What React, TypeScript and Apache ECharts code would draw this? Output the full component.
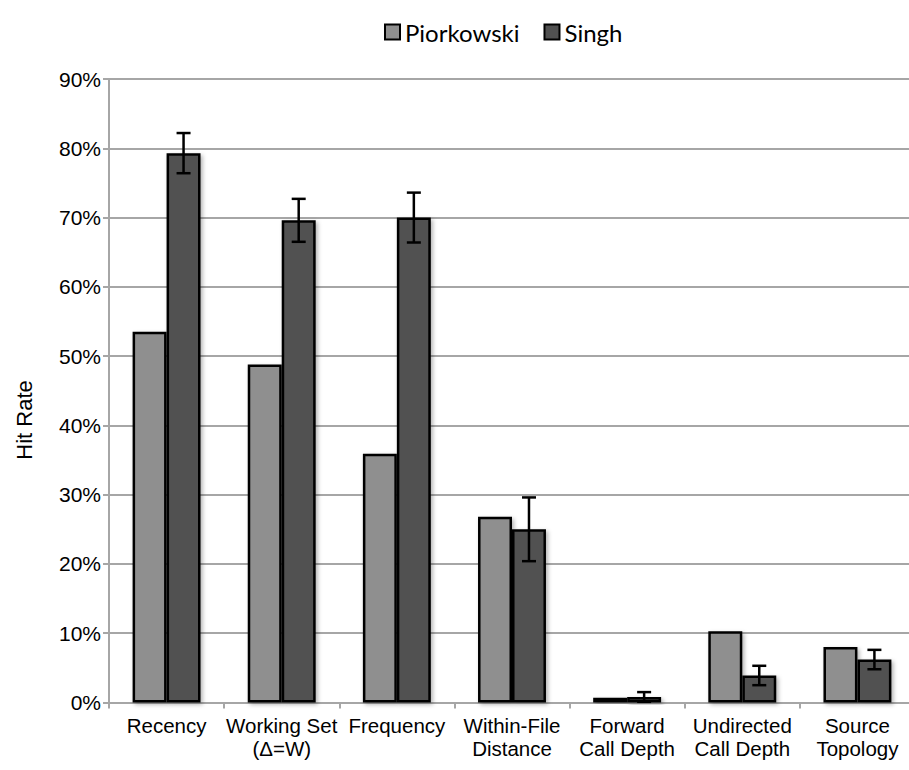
import React, { useEffect, useRef } from "react";
import * as echarts from "echarts";

// Replacement policies compared on hit rate
const categories = [
  "Recency",
  "Working Set\n(Δ=W)",
  "Frequency",
  "Within-File\nDistance",
  "Forward\nCall Depth",
  "Undirected\nCall Depth",
  "Source\nTopology",
];

const piorkowski = [53.5, 48.8, 35.9, 26.8, 0.7, 10.3, 8.0];
const singh = [79.3, 69.6, 70.0, 25.0, 0.8, 3.9, 6.2];
// half-width of the error bar around each Singh value
const singhError = [2.9, 3.1, 3.6, 4.6, 0.7, 1.4, 1.4];

const yTicks = { min: 0, max: 90, interval: 10 };

const BAR_FRACTION = 0.295;

export default function App() {
  const ref = useRef<HTMLDivElement>(null);

  useEffect(() => {
    if (!ref.current) return;
    const chart = echarts.init(ref.current, undefined, { renderer: "svg" });

    const errorData = singh.map((v, i) => [i, v - singhError[i], v + singhError[i]]);

    const option: any = {
      animation: false,
      backgroundColor: "#ffffff",
      textStyle: { fontFamily: "Liberation Sans, Arial, sans-serif" },
      legend: {
        data: ["Piorkowski", "Singh"],
        top: 15,
        left: 379,
        icon: "rect",
        itemWidth: 15,
        itemHeight: 15,
        itemGap: 24,
        itemStyle: { borderColor: "#000", borderWidth: 2 },
        textStyle: { fontFamily: "Lato", fontSize: 24, color: "#000" },
      },
      grid: {
        left: 109,
        right: -6,
        top: 79,
        bottom: 67.5,
        containLabel: false,
        outerBoundsMode: "none",
      },
      xAxis: {
        type: "category",
        data: categories,
        axisLine: { lineStyle: { color: "#a6a6a6", width: 2 } },
        axisTick: { show: true, length: 6, lineStyle: { color: "#a6a6a6", width: 2 } },
        axisLabel: {
          interval: 0,
          margin: 11,
          color: "#000",
          fontSize: 20.5,
          lineHeight: 23,
          fontFamily: "Liberation Sans",
        },
      },
      yAxis: {
        type: "value",
        min: yTicks.min,
        max: yTicks.max,
        interval: yTicks.interval,
        axisLine: { show: true, lineStyle: { color: "#a6a6a6", width: 2 } },
        axisTick: { show: true, length: 6, lineStyle: { color: "#a6a6a6", width: 2 } },
        axisLabel: {
          formatter: "{value}%",
          margin: 8,
          color: "#000",
          fontSize: 21,
          fontFamily: "Liberation Sans",
        },
        splitLine: { show: true, lineStyle: { color: "#a6a6a6", width: 2 } },
      },
      graphic: [
        {
          type: "text",
          x: 24,
          y: 420,
          rotation: Math.PI / 2,
          style: {
            text: "Hit Rate",
            fill: "#000",
            font: "22px 'Liberation Sans', Arial, sans-serif",
            textAlign: "center",
            textVerticalAlign: "middle",
          },
        },
      ],
      series: [
        {
          name: "Piorkowski",
          type: "bar",
          data: piorkowski,
          barWidth: BAR_FRACTION * 100 + "%",
          barGap: "0%",
          itemStyle: {
            color: "#8f8f8f",
            borderColor: "#000",
            borderWidth: 2.5,
            shadowBlur: 4,
            shadowColor: "rgba(0,0,0,0.3)",
            shadowOffsetX: 2,
            shadowOffsetY: 2,
          },
        },
        {
          name: "Singh",
          type: "bar",
          data: singh,
          barWidth: BAR_FRACTION * 100 + "%",
          barGap: "0%",
          itemStyle: {
            color: "#515151",
            borderColor: "#000",
            borderWidth: 2.5,
            shadowBlur: 4,
            shadowColor: "rgba(0,0,0,0.3)",
            shadowOffsetX: 2,
            shadowOffsetY: 2,
          },
        },
        {
          name: "Singh error",
          type: "custom",
          data: errorData,
          encode: { x: 0, y: [1, 2] },
          z: 10,
          renderItem: (params: any, api: any) => {
            const idx = api.value(0);
            const lo = api.coord([idx, api.value(1)]);
            const hi = api.coord([idx, api.value(2)]);
            const band = api.size([1, 0])[0];
            const cx = lo[0] + (band * BAR_FRACTION) / 2;
            const cap = 7;
            const style = { stroke: "#000", lineWidth: 2.5 };
            return {
              type: "group",
              children: [
                { type: "line", shape: { x1: cx, y1: lo[1], x2: cx, y2: hi[1] }, style },
                { type: "line", shape: { x1: cx - cap, y1: hi[1], x2: cx + cap, y2: hi[1] }, style },
                { type: "line", shape: { x1: cx - cap, y1: lo[1], x2: cx + cap, y2: lo[1] }, style },
              ],
            };
          },
        },
      ],
    };

    chart.setOption(option);
    return () => chart.dispose();
  }, []);

  return <div ref={ref} style={{ width: 909, height: 770, position: "absolute", left: 0, top: 0 }} />;
}
